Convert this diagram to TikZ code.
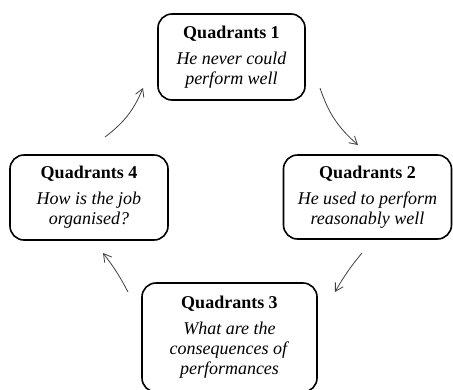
\documentclass[tikz,border=0pt]{standalone}
\usepackage{fontspec}
\setmainfont{Liberation Serif}
\usetikzlibrary{arrows.meta}
\tikzset{
  quad/.style={draw=black, line width=1.6pt, rounded corners=14pt, align=center,
    inner sep=0pt, font=\fontsize{18}{20}\selectfont},
  cyc/.style={draw=black!75, line width=0.8pt, -{Straight Barb[angle=60:9pt]}}
}
\newcommand{\qtitle}[1]{\textbf{#1}\\[6pt]}
\begin{document}
\begin{tikzpicture}[x=1pt,y=-1pt]
\useasboundingbox (0,0) rectangle (453,389);
\clip (0,0) rectangle (453,389);
\node[quad, minimum width=147pt, minimum height=86pt] (q1) at (231.5,57)
  {\qtitle{Quadrants 1}\textit{He never could}\\\textit{perform well}};
\node[quad, minimum width=168pt, minimum height=84pt] (q2) at (367.5,197)
  {\qtitle{Quadrants 2}\textit{He used to perform}\\\textit{reasonably well}};
\node[quad, minimum width=175pt, minimum height=109pt] (q3) at (229.5,337.5)
  {\qtitle{Quadrants 3}\textit{What are the}\\\textit{consequences of}\\\textit{performances}};
\node[quad, minimum width=158pt, minimum height=85pt] (q4) at (89,197.5)
  {\qtitle{Quadrants 4}\textit{How is the job}\\\textit{organised?}};
\coordinate (a1s) at (105,137); \coordinate (a1e) at (143,88);
\coordinate (a2s) at (320,88);  \coordinate (a2e) at (358,145);
\coordinate (a3s) at (362,253); \coordinate (a3e) at (335,292);
\coordinate (a4s) at (128,292); \coordinate (a4e) at (103,253);
\draw[cyc] (a1s) to[bend right=15] (a1e);
\draw[cyc] (a2s) to[bend right=15] (a2e);
\draw[cyc] (a3s) to[bend right=5] (a3e);
\draw[cyc] (a4s) to[bend right=5] (a4e);
\end{tikzpicture}
\end{document}
